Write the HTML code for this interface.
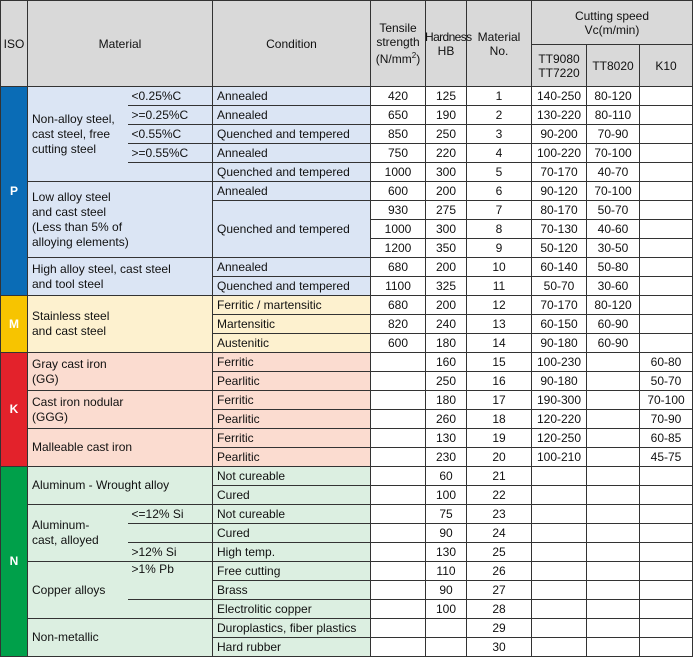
<!DOCTYPE html>
<html><head><meta charset="utf-8">
<style>
html,body{margin:0;padding:0;background:#fff;}
body{width:695px;height:658px;overflow:hidden;}
table{border-collapse:collapse;table-layout:fixed;font-family:"Liberation Sans",Arial,sans-serif;font-size:12px;color:#111;width:692px;}
td,th{border:1px solid #333;padding:0 0 0 4px;overflow:hidden;white-space:nowrap;line-height:15px;font-weight:normal;}
tr.d td{height:18px;}
th{background:#d9d9d9;text-align:center;padding:0;white-space:normal;line-height:14px;}
th.hb{overflow:visible;white-space:nowrap;}
.iso{color:#fff;font-weight:bold;text-align:center;padding:0;}
.P{background:#dbe5f4}.M{background:#fdf1cf}.K{background:#fbdcd0}.N{background:#dcefe1}
.iP{background:#0a6cb6}.iM{background:#f7c400}.iK{background:#e3222b}.iN{background:#00a04a}
.c{text-align:center;padding:0;background:#fff;}
.w{white-space:normal;}
.m1{border-right:none;}
.m2{border-left:none;}
</style></head><body>
<table>
<colgroup><col style="width:27px"><col style="width:100px"><col style="width:85px"><col style="width:158px"><col style="width:55px"><col style="width:41px"><col style="width:65px"><col style="width:55px"><col style="width:53px"><col style="width:53px"></colgroup>
<tr style="height:44px">
<th rowspan="2">ISO</th>
<th rowspan="2" colspan="2">Material</th>
<th rowspan="2">Condition</th>
<th rowspan="2">Tensile strength (N/mm<sup style="font-size:8px">2</sup>)</th>
<th rowspan="2" class="hb"><span style="display:inline-block;width:41px;letter-spacing:-0.6px;margin-left:-1px">Hardness</span><br>HB</th>
<th rowspan="2">Material No.</th>
<th colspan="3">Cutting speed<br>Vc(m/min)</th>
</tr>
<tr style="height:42px">
<th>TT9080<br>TT7220</th>
<th>TT8020</th>
<th>K10</th>
</tr>
<!-- P -->
<tr class="d"><td rowspan="11" class="iso iP">P</td><td rowspan="5" class="P w m1">Non-alloy steel, cast steel, free cutting steel</td><td class="P m2">&lt;0.25%C</td><td class="P">Annealed</td><td class="c">420</td><td class="c">125</td><td class="c">1</td><td class="c">140-250</td><td class="c">80-120</td><td class="c"></td></tr>
<tr class="d"><td class="P m2">&gt;=0.25%C</td><td class="P">Annealed</td><td class="c">650</td><td class="c">190</td><td class="c">2</td><td class="c">130-220</td><td class="c">80-110</td><td class="c"></td></tr>
<tr class="d"><td class="P m2">&lt;0.55%C</td><td class="P">Quenched and tempered</td><td class="c">850</td><td class="c">250</td><td class="c">3</td><td class="c">90-200</td><td class="c">70-90</td><td class="c"></td></tr>
<tr class="d"><td class="P m2">&gt;=0.55%C</td><td class="P">Annealed</td><td class="c">750</td><td class="c">220</td><td class="c">4</td><td class="c">100-220</td><td class="c">70-100</td><td class="c"></td></tr>
<tr class="d"><td class="P m2"></td><td class="P">Quenched and tempered</td><td class="c">1000</td><td class="c">300</td><td class="c">5</td><td class="c">70-170</td><td class="c">40-70</td><td class="c"></td></tr>
<tr class="d"><td rowspan="4" colspan="2" class="P w">Low alloy steel<br>and cast steel<br>(Less than 5% of<br>alloying elements)</td><td class="P">Annealed</td><td class="c">600</td><td class="c">200</td><td class="c">6</td><td class="c">90-120</td><td class="c">70-100</td><td class="c"></td></tr>
<tr class="d"><td rowspan="3" class="P">Quenched and tempered</td><td class="c">930</td><td class="c">275</td><td class="c">7</td><td class="c">80-170</td><td class="c">50-70</td><td class="c"></td></tr>
<tr class="d"><td class="c">1000</td><td class="c">300</td><td class="c">8</td><td class="c">70-130</td><td class="c">40-60</td><td class="c"></td></tr>
<tr class="d"><td class="c">1200</td><td class="c">350</td><td class="c">9</td><td class="c">50-120</td><td class="c">30-50</td><td class="c"></td></tr>
<tr class="d"><td rowspan="2" colspan="2" class="P w">High alloy steel, cast steel<br>and tool steel</td><td class="P">Annealed</td><td class="c">680</td><td class="c">200</td><td class="c">10</td><td class="c">60-140</td><td class="c">50-80</td><td class="c"></td></tr>
<tr class="d"><td class="P">Quenched and tempered</td><td class="c">1100</td><td class="c">325</td><td class="c">11</td><td class="c">50-70</td><td class="c">30-60</td><td class="c"></td></tr>
<!-- M -->
<tr class="d"><td rowspan="3" class="iso iM">M</td><td rowspan="3" colspan="2" class="M w">Stainless steel<br>and cast steel</td><td class="M">Ferritic / martensitic</td><td class="c">680</td><td class="c">200</td><td class="c">12</td><td class="c">70-170</td><td class="c">80-120</td><td class="c"></td></tr>
<tr class="d"><td class="M">Martensitic</td><td class="c">820</td><td class="c">240</td><td class="c">13</td><td class="c">60-150</td><td class="c">60-90</td><td class="c"></td></tr>
<tr class="d"><td class="M">Austenitic</td><td class="c">600</td><td class="c">180</td><td class="c">14</td><td class="c">90-180</td><td class="c">60-90</td><td class="c"></td></tr>
<!-- K -->
<tr class="d"><td rowspan="6" class="iso iK">K</td><td rowspan="2" colspan="2" class="K w">Gray cast iron<br>(GG)</td><td class="K">Ferritic</td><td class="c"></td><td class="c">160</td><td class="c">15</td><td class="c">100-230</td><td class="c"></td><td class="c">60-80</td></tr>
<tr class="d"><td class="K">Pearlitic</td><td class="c"></td><td class="c">250</td><td class="c">16</td><td class="c">90-180</td><td class="c"></td><td class="c">50-70</td></tr>
<tr class="d"><td rowspan="2" colspan="2" class="K w">Cast iron nodular<br>(GGG)</td><td class="K">Ferritic</td><td class="c"></td><td class="c">180</td><td class="c">17</td><td class="c">190-300</td><td class="c"></td><td class="c">70-100</td></tr>
<tr class="d"><td class="K">Pearlitic</td><td class="c"></td><td class="c">260</td><td class="c">18</td><td class="c">120-220</td><td class="c"></td><td class="c">70-90</td></tr>
<tr class="d"><td rowspan="2" colspan="2" class="K">Malleable cast iron</td><td class="K">Ferritic</td><td class="c"></td><td class="c">130</td><td class="c">19</td><td class="c">120-250</td><td class="c"></td><td class="c">60-85</td></tr>
<tr class="d"><td class="K">Pearlitic</td><td class="c"></td><td class="c">230</td><td class="c">20</td><td class="c">100-210</td><td class="c"></td><td class="c">45-75</td></tr>
<!-- N -->
<tr class="d"><td rowspan="10" class="iso iN">N</td><td rowspan="2" colspan="2" class="N">Aluminum - Wrought alloy</td><td class="N">Not cureable</td><td class="c"></td><td class="c">60</td><td class="c">21</td><td class="c"></td><td class="c"></td><td class="c"></td></tr>
<tr class="d"><td class="N">Cured</td><td class="c"></td><td class="c">100</td><td class="c">22</td><td class="c"></td><td class="c"></td><td class="c"></td></tr>
<tr class="d"><td rowspan="3" class="N w m1">Aluminum-<br>cast, alloyed</td><td class="N m2">&lt;=12% Si</td><td class="N">Not cureable</td><td class="c"></td><td class="c">75</td><td class="c">23</td><td class="c"></td><td class="c"></td><td class="c"></td></tr>
<tr class="d"><td class="N m2"></td><td class="N">Cured</td><td class="c"></td><td class="c">90</td><td class="c">24</td><td class="c"></td><td class="c"></td><td class="c"></td></tr>
<tr class="d"><td class="N m2">&gt;12% Si</td><td class="N">High temp.</td><td class="c"></td><td class="c">130</td><td class="c">25</td><td class="c"></td><td class="c"></td><td class="c"></td></tr>
<tr class="d"><td rowspan="3" class="N m1">Copper alloys</td><td rowspan="2" class="N m2" style="vertical-align:top">&gt;1% Pb</td><td class="N">Free cutting</td><td class="c"></td><td class="c">110</td><td class="c">26</td><td class="c"></td><td class="c"></td><td class="c"></td></tr>
<tr class="d"><td class="N">Brass</td><td class="c"></td><td class="c">90</td><td class="c">27</td><td class="c"></td><td class="c"></td><td class="c"></td></tr>
<tr class="d"><td class="N m2"></td><td class="N">Electrolitic copper</td><td class="c"></td><td class="c">100</td><td class="c">28</td><td class="c"></td><td class="c"></td><td class="c"></td></tr>
<tr class="d"><td rowspan="2" colspan="2" class="N">Non-metallic</td><td class="N">Duroplastics, fiber plastics</td><td class="c"></td><td class="c"></td><td class="c">29</td><td class="c"></td><td class="c"></td><td class="c"></td></tr>
<tr class="d"><td class="N">Hard rubber</td><td class="c"></td><td class="c"></td><td class="c">30</td><td class="c"></td><td class="c"></td><td class="c"></td></tr>
</table>
</body></html>
